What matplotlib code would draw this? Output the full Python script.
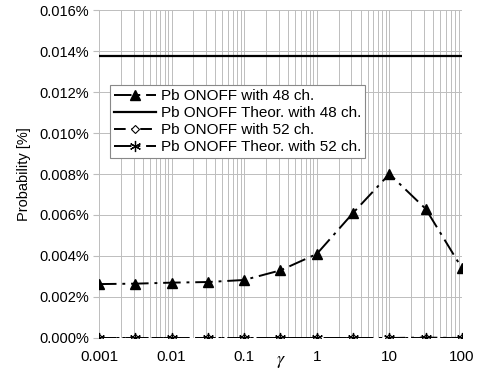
import matplotlib
matplotlib.use('Agg')
import matplotlib.pyplot as plt
from matplotlib.ticker import FixedLocator, FuncFormatter, LogLocator, NullFormatter

plt.rcParams['font.family'] = ['Liberation Sans', 'DejaVu Sans']
plt.rcParams['mathtext.fontset'] = 'stix'

# gamma values and probabilities (in percent)
gamma = [0.001, 0.00316, 0.01, 0.0316, 0.1, 0.316, 1, 3.16, 10, 31.6, 100]
pb48 = [0.00263, 0.00265, 0.0027, 0.00273, 0.00283, 0.0033, 0.0041, 0.0061, 0.0080, 0.0063, 0.0034]
pb48_theor = 0.01375
pb52 = [0.0, 0.0, 0.0, 0.0, 0.0, 0.0, 0.0, 0.0, 0.0, 0.0, 0.0]
pb52_theor = [0.0, 0.0, 0.0, 0.0, 0.0, 0.0, 0.0, 0.0, 0.0, 0.00002, 0.0]

yticks = [0.0, 0.002, 0.004, 0.006, 0.008, 0.010, 0.012, 0.014, 0.016]
xticks = [0.001, 0.01, 0.1, 1, 10, 100]
xtick_labels = ['0.001', '0.01', '0.1', '1', '10', '100']

fig = plt.figure(figsize=(4.79, 3.75), dpi=100)
ax = fig.add_axes([0.2067, 0.0987, 0.7578, 0.8746])

dashdot = (0, (9, 3, 1.5, 3))
ax.plot(gamma, pb48, color='black', lw=1.4, linestyle=dashdot,
        marker='^', ms=7.5, mfc='black', mec='black', label='Pb ONOFF with 48 ch.')
ax.plot([gamma[0], gamma[-1]], [pb48_theor, pb48_theor], color='black', lw=1.6,
        label='Pb ONOFF Theor. with 48 ch.')
ax.plot(gamma, pb52, color='black', lw=1.4, linestyle=(0, (6, 3, 1.5, 3)),
        marker='D', ms=4.5, mfc='white', mec='black', mew=0.8, label='Pb ONOFF with 52 ch.')
ax.plot(gamma, pb52_theor, color='black', lw=1.4, linestyle=dashdot,
        marker=(6, 2, 0), ms=8, mec='black', mew=0.9, label='Pb ONOFF Theor. with 52 ch.')

ax.set_xscale('log')
ax.set_xlim(0.001, 100)
ax.set_ylim(0, 0.016)
ax.xaxis.set_major_locator(FixedLocator(xticks))
ax.set_xticklabels(xtick_labels)
ax.xaxis.set_minor_locator(LogLocator(base=10, subs=range(2, 10)))
ax.xaxis.set_minor_formatter(NullFormatter())
ax.set_yticks(yticks)
ax.yaxis.set_major_formatter(FuncFormatter(lambda v, p: '%.3f%%' % v))

ax.grid(True, which='both', axis='x', color='#bdbdbd', lw=0.7)
ax.grid(True, which='major', axis='y', color='#bdbdbd', lw=0.7)
ax.set_axisbelow(True)
for s in ax.spines.values():
    s.set_visible(False)
ax.tick_params(axis='x', which='both', length=0, labelsize=11, pad=9)
ax.tick_params(axis='y', length=4, color='#bdbdbd', labelsize=10.5, pad=3)

ax.set_xlabel(r'$\gamma$', fontsize=13, labelpad=-8)
ax.set_ylabel('Probability [%]', fontsize=10.5, labelpad=6)

leg = ax.legend(loc='upper left', bbox_to_anchor=(0.03, 0.77), fontsize=11,
                frameon=True, fancybox=False, edgecolor='#888888', framealpha=1,
                handlelength=2.8, handletextpad=0.3, borderpad=0.25, labelspacing=0.2,
                borderaxespad=0)
leg.get_frame().set_linewidth(0.8)

fig.savefig('out.png', dpi=100)
